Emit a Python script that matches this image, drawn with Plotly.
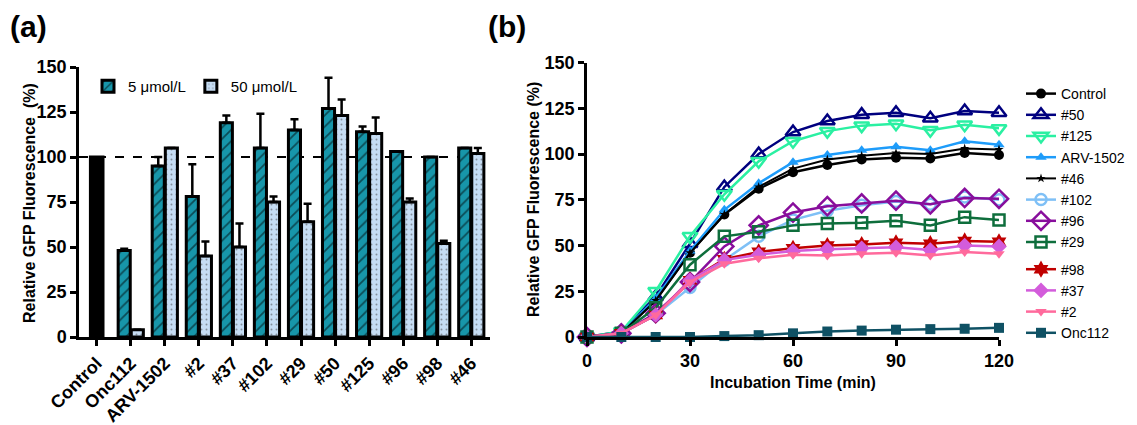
import plotly.graph_objects as go

W, H = 1137, 425
FONT = "Liberation Sans, Arial, sans-serif"

# ---------------- Panel (a) data ----------------
categories = ["Control", "Onc112", "ARV-1502", "#2", "#37", "#102", "#29",
              "#50", "#125", "#96", "#98", "#46"]
control_value = [100]
compounds = categories[1:]
val_5 = [48, 95, 78, 119, 105, 115, 127, 114, 103, 100, 105]
err_5 = [1, 5, 18, 4, 19, 6, 17, 3, 0, 0, 0]
val_50 = [4, 105, 45, 50, 75, 64, 123, 113, 75, 52, 102]
err_50 = [0, 0, 8, 13, 3, 10, 9, 9, 2, 1.5, 3]
y_ticks_a = [0, 25, 50, 75, 100, 125, 150]

# ---------------- Panel (b) data ----------------
time_min = [0, 10, 20, 30, 40, 50, 60, 70, 80, 90, 100, 110, 120]
series_names = ["Control", "#50", "#125", "ARV-1502", "#46", "#102", "#96",
                "#29", "#98", "#37", "#2", "Onc112"]
s_control = [0, 2, 20, 46, 67, 81, 90, 94, 97, 98, 97.5, 100.5, 99.5]
s_50 = [0, 3, 22, 51, 82, 100, 112, 118, 121.5, 122.5, 119.5, 123.5, 122.5]
s_125 = [0, 3, 25, 55, 78, 96, 107, 112.5, 115.5, 116.5, 113, 116, 114]
s_arv = [0, 2, 21, 47, 69.5, 84, 95.5, 99.5, 102, 104, 102, 107, 105]
s_46 = [0, 2, 20, 46, 67, 82, 92, 97, 99, 100.5, 100, 103, 102.5]
s_102 = [0, 2, 12, 27, 42, 55, 64, 69, 72, 74, 72.5, 76.5, 75]
s_96 = [0, 2, 13, 30, 49.5, 61, 68, 71.5, 73, 74.5, 72.5, 76, 75.5]
s_29 = [0, 2, 16, 39.5, 55, 57.5, 61, 62, 62.5, 63.5, 61, 65.5, 64]
s_98 = [0, 2, 12, 31, 42.5, 46.5, 48.5, 50, 50.5, 51.5, 51, 52.5, 52]
s_37 = [0, 2, 12, 31, 42, 45, 47, 48, 48.5, 49, 47.5, 50, 49.5]
s_2 = [0, 2, 12, 30, 40, 43, 45, 44.5, 45.5, 46, 44.5, 46.5, 45.5]
s_onc = [0, 0, 0, 0, 0.5, 1, 2, 3, 3.5, 4, 4.3, 4.5, 5]
series_values = [s_control, s_50, s_125, s_arv, s_46, s_102, s_96, s_29,
                 s_98, s_37, s_2, s_onc]
x_ticks_b = [0, 30, 60, 90, 120]
y_ticks_b = [0, 25, 50, 75, 100, 125, 150]

# ---------------- styles ----------------
TEAL = "#1796AA"
LIGHT = "#C6DDF4"
styles = {
    "Control": dict(color="#000000", symbol="circle", size=10),
    "#50": dict(color="#00007F", symbol="triangle-up-open", size=13),
    "#125": dict(color="#2AF0A2", symbol="triangle-down-open", size=13),
    "ARV-1502": dict(color="#1E9CFA", symbol="triangle-up", size=10),
    "#46": dict(color="#000000", symbol="star", size=7),
    "#102": dict(color="#7FC0F6", symbol="circle-open", size=11),
    "#96": dict(color="#880E9C", symbol="diamond-open", size=14),
    "#29": dict(color="#0E6E3C", symbol="square-open", size=11),
    "#98": dict(color="#C00000", symbol="hexagram", size=13),
    "#37": dict(color="#D35CDB", symbol="diamond", size=12),
    "#2": dict(color="#FF6A9C", symbol="triangle-down", size=10),
    "Onc112": dict(color="#0F5164", symbol="square", size=10),
}

def px_x(p):
    return p / W

def px_y(p):
    return 1 - p / H

fig = go.Figure()

# Panel (a) bars
fig.add_trace(go.Bar(
    x=["Control"], y=control_value, xaxis="x", yaxis="y",
    marker=dict(color="#000000", line=dict(color="#000000", width=3)),
    width=0.37, offset=-0.185, showlegend=False))
fig.add_trace(go.Bar(
    x=compounds, y=val_5, name="5 μmol/L", xaxis="x", yaxis="y",
    legend="legend2",
    marker=dict(color=TEAL, line=dict(color="#000000", width=3),
                pattern=dict(shape="/", fgcolor="#000000", size=8,
                             solidity=0.22, fillmode="overlay")),
    error_y=dict(type="data", symmetric=False, array=err_5,
                 arrayminus=[0] * len(err_5), color="#000000",
                 thickness=2.5, width=4),
    width=0.355, offset=-0.37))
fig.add_trace(go.Bar(
    x=compounds, y=val_50, name="50 μmol/L", xaxis="x", yaxis="y",
    legend="legend2",
    marker=dict(color=LIGHT, line=dict(color="#000000", width=3),
                pattern=dict(shape=".", fgcolor="#444444", size=5,
                             solidity=0.12, fillmode="overlay")),
    error_y=dict(type="data", symmetric=False, array=err_50,
                 arrayminus=[0] * len(err_50), color="#000000",
                 thickness=2.5, width=4),
    width=0.355, offset=0.015))

# Panel (b) lines
for name, vals in zip(series_names, series_values):
    st = styles[name]
    open_sym = st["symbol"].endswith("-open")
    fig.add_trace(go.Scatter(
        x=time_min, y=vals, name=name, xaxis="x2", yaxis="y2",
        mode="lines+markers", cliponaxis=False,
        legendgroup="g1" if series_names.index(name) < 8 else "g2",
        line=dict(color=st["color"], width=2.5 if name != "#46" else 2),
        marker=dict(symbol=st["symbol"], size=st["size"], color=st["color"],
                    line=dict(color=st["color"], width=2.5 if open_sym else 0))))

axis_common = dict(showline=True, linecolor="#000000", linewidth=2.5,
                   ticks="outside", ticklen=6, tickwidth=2.5,
                   tickcolor="#000000", showgrid=False, zeroline=False,
                   automargin=False,
                   tickfont=dict(family=FONT, size=18, color="#000000",
                                 weight="bold"))

fig.update_layout(
    width=W, height=H,
    margin=dict(l=0, r=0, t=0, b=0),
    paper_bgcolor="white", plot_bgcolor="white",
    barmode="overlay",
    font=dict(family=FONT, color="#000000"),
    xaxis=dict(domain=[px_x(79), px_x(490)], anchor="y", type="category",
               categoryorder="array", categoryarray=categories,
               range=[-0.52, 11.55], tickangle=-45, **axis_common),
    yaxis=dict(domain=[px_y(337), px_y(67)], anchor="x", range=[0, 150],
               tickvals=y_ticks_a, **axis_common),
    xaxis2=dict(domain=[px_x(587), px_x(999)], anchor="y2", range=[0, 120],
                tickvals=x_ticks_b, **axis_common),
    yaxis2=dict(domain=[px_y(337), px_y(62.5)], anchor="x2", range=[0, 150],
                tickvals=y_ticks_b, **axis_common),
    legend=dict(x=px_x(1021), y=px_y(78), xanchor="left", yanchor="top",
                font=dict(family=FONT, size=14, color="#000000"),
                tracegroupgap=6, bgcolor="rgba(0,0,0,0)", itemwidth=30),
    legend2=dict(x=px_x(88), y=px_y(70), xanchor="left", yanchor="top",
                 orientation="h",
                 font=dict(family=FONT, size=15, color="#000000"),
                 bgcolor="rgba(0,0,0,0)"),
    shapes=[dict(type="line", xref="x domain", yref="y", x0=0, x1=1,
                 y0=100, y1=100, line=dict(color="#000000", width=2,
                                           dash="dash"), layer="below")],
    annotations=[
        dict(text="<b>(a)</b>", xref="paper", yref="paper", x=px_x(8),
             y=px_y(27), xanchor="left", yanchor="middle", showarrow=False,
             font=dict(family=FONT, size=30)),
        dict(text="<b>(b)</b>", xref="paper", yref="paper", x=px_x(486),
             y=px_y(27), xanchor="left", yanchor="middle", showarrow=False,
             font=dict(family=FONT, size=30)),
        dict(text="<b>Relative GFP Fluorescence  (%)</b>", xref="paper",
             yref="paper", x=px_x(29), y=px_y(203), textangle=-90,
             showarrow=False, xanchor="center", yanchor="middle",
             font=dict(family=FONT, size=16)),
        dict(text="<b>Relative GFP Fluorescence (%)</b>", xref="paper",
             yref="paper", x=px_x(533), y=px_y(200), textangle=-90,
             showarrow=False, xanchor="center", yanchor="middle",
             font=dict(family=FONT, size=16)),
        dict(text="<b>Incubation Time (min)</b>", xref="paper",
             yref="paper", x=px_x(793), y=px_y(382), showarrow=False,
             xanchor="center", yanchor="middle",
             font=dict(family=FONT, size=16)),
    ],
)

fig.write_html("out.html")
